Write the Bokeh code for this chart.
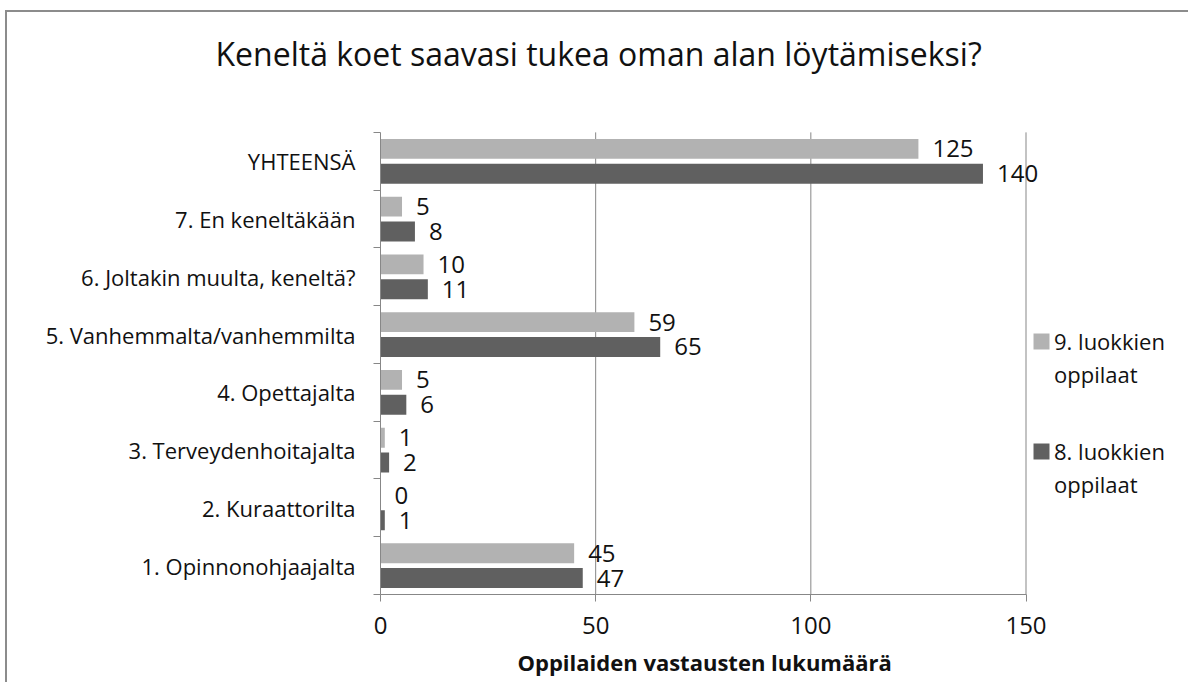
from bokeh.plotting import figure
from bokeh.models import (Range1d, FixedTicker, LabelSet, Legend, LegendItem,
                          ColumnDataSource, Title)
from bokeh.core.properties import value
from bokeh.embed import file_html
from bokeh.resources import INLINE

# Survey answers: who supports the pupil in finding a career path
categories = [
    "1. Opinnonohjaajalta",
    "2. Kuraattorilta",
    "3. Terveydenhoitajalta",
    "4. Opettajalta",
    "5. Vanhemmalta/vanhemmilta",
    "6. Joltakin muulta, keneltä?",
    "7. En keneltäkään",
    "YHTEENSÄ",
]
grade9 = [45, 0, 1, 5, 59, 10, 5, 125]
grade8 = [47, 1, 2, 6, 65, 11, 8, 140]
x_ticks = [0, 50, 100, 150]
series_lines = [["9. luokkien", "oppilaat"], ["8. luokkien", "oppilaat"]]
chart_title = "Keneltä koet saavasi tukea oman alan löytämiseksi?"
axis_title = "Oppilaiden vastausten lukumäärä"

FONT = "Open Sans"
AXIS_GRAY = "#878787"
LIGHT = "#b2b2b2"
DARK = "#606060"
TEXT = "#111111"

n = len(categories)
idx = list(range(n))
off = 0.215
bar_h = 0.345
y_lo, y_hi = -0.5, n - 0.5

src9 = ColumnDataSource(dict(y=[i + off for i in idx], v=grade9,
                             t=[str(v) for v in grade9]))
src8 = ColumnDataSource(dict(y=[i - off for i in idx], v=grade8,
                             t=[str(v) for v in grade8]))

# Plot geometry: the bars use 645.5 px for 0..150 and 463 px for the
# categories; the frame continues to the right edge and upwards so the value
# labels and the legend are drawn inside it.
TOP_BORDER = 62
FRAME_H = 672 - TOP_BORDER - 89
px_per_x = 645.5 / 150
px_per_y = 463 / n
x_end = 810 / px_per_x
y_top = y_lo + FRAME_H / px_per_y

p = figure(width=1183, height=672,
           x_range=Range1d(0, x_end), y_range=Range1d(y_lo, y_top),
           output_backend="svg", toolbar_location=None,
           min_border_left=373, min_border_right=0,
           min_border_top=TOP_BORDER, min_border_bottom=89)
p.margin = (10, 0, 0, 5)
p.styles = {"border-top": "2px solid #8c8c8c", "border-left": "2px solid #8c8c8c"}
p.outline_line_color = None
p.background_fill_color = "white"
p.border_fill_color = "white"

# vertical grid lines over the category span only
p.xgrid.grid_line_color = None
p.ygrid.grid_line_color = None
p.segment(x0=x_ticks[1:], x1=x_ticks[1:], y0=y_lo, y1=y_hi,
          line_color=AXIS_GRAY, line_width=1, level="underlay")

r9 = p.hbar(y="y", right="v", left=0, height=bar_h, source=src9,
            fill_color=LIGHT, line_color=None)
r8 = p.hbar(y="y", right="v", left=0, height=bar_h, source=src8,
            fill_color=DARK, line_color=None)
# empty renderer used for the second, swatch-less legend line
r_none = p.hbar(y=[], right=[], left=0, height=bar_h,
                fill_alpha=0, line_alpha=0)

for src in (src9, src8):
    p.add_layout(LabelSet(x="v", y="y", text="t", source=src, x_offset=14,
                          text_baseline="middle", text_align="left",
                          text_font=value(FONT), text_font_size="24px",
                          text_color=TEXT))

# x axis
p.xaxis.bounds = (0, 150)
p.xaxis.ticker = FixedTicker(ticks=x_ticks)
p.xaxis.axis_line_color = AXIS_GRAY
p.xaxis.major_tick_line_color = AXIS_GRAY
p.xaxis.major_tick_out = 7
p.xaxis.major_tick_in = 0
p.xaxis.minor_tick_line_color = None
p.xaxis.major_label_standoff = 15
p.xaxis.major_label_text_font = FONT
p.xaxis.major_label_text_font_size = "24px"
p.xaxis.major_label_text_color = TEXT

# axis title, centred under the 0..150 span
p.add_layout(Title(text=axis_title, align="left",
                   offset=137, standoff=16, text_font=FONT,
                   text_font_size="22px", text_font_style="bold",
                   text_color=TEXT), "below")

# category axis: labels at centres, ticks at category boundaries
p.yaxis.bounds = (y_lo, y_hi)
p.yaxis.ticker = FixedTicker(ticks=idx,
                             minor_ticks=[i - 0.5 for i in range(n + 1)])
p.yaxis.major_label_overrides = {i: c for i, c in zip(idx, categories)}
p.yaxis.major_tick_line_color = None
p.yaxis.major_tick_out = 0
p.yaxis.major_tick_in = 0
p.yaxis.minor_tick_line_color = AXIS_GRAY
p.yaxis.minor_tick_out = 7
p.yaxis.minor_tick_in = 0
p.yaxis.axis_line_color = AXIS_GRAY
p.yaxis.major_label_standoff = 18
p.yaxis.major_label_text_font = FONT
p.yaxis.major_label_text_font_size = "22px"
p.yaxis.major_label_text_color = TEXT

# chart heading
p.title.text = chart_title
p.title.align = "left"
p.title.offset = -165
p.title.standoff = 0
p.title.text_font = FONT
p.title.text_font_size = "32px"
p.title.text_font_style = "normal"
p.title.text_color = TEXT

# legend: one block per series, swatch beside the first line
for renderer, lines, vy in ((r9, series_lines[0], 205), (r8, series_lines[1], 95)):
    legend = Legend(items=[LegendItem(label=lines[0], renderers=[renderer]),
                           LegendItem(label=lines[1], renderers=[r_none])],
                    location=(651, vy), orientation="vertical",
                    glyph_width=20, glyph_height=20, label_standoff=3,
                    label_text_font=FONT, label_text_font_size="22px",
                    label_text_color=TEXT, spacing=3, padding=0, margin=0,
                    border_line_color=None, background_fill_alpha=0)
    p.add_layout(legend)

open("out.html", "w").write(file_html(p, INLINE))
